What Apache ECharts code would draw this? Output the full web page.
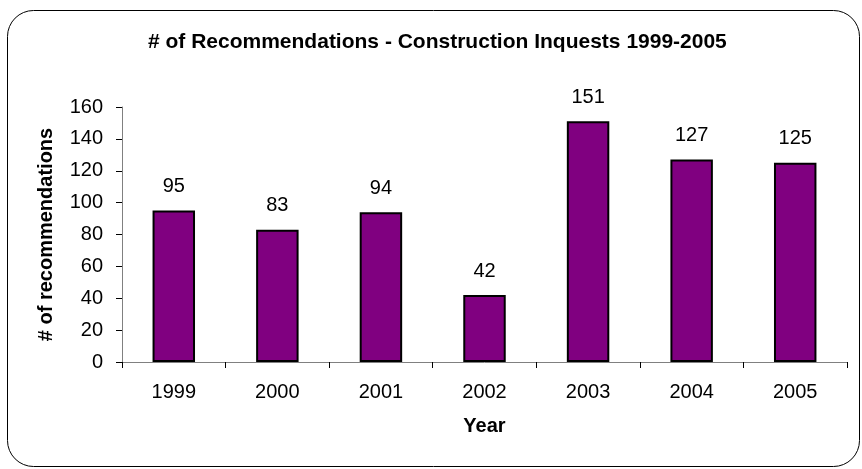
<!DOCTYPE html>
<html>
<head>
<meta charset="utf-8">
<title># of Recommendations</title>
<script src="https://cdn.jsdelivr.net/npm/echarts@6/dist/echarts.min.js"></script>
<style>
  html, body { margin: 0; padding: 0; background: #fff; }
  #chart { width: 862px; height: 469px; }
</style>
</head>
<body>
<div id="chart"></div>
<script>
// data
var years = ['1999', '2000', '2001', '2002', '2003', '2004', '2005'];
var recommendations = [95, 83, 94, 42, 151, 127, 125];

var chart = echarts.init(document.getElementById('chart'));
var font = '"Liberation Sans", Arial, sans-serif';

chart.setOption({
  animation: false,
  textStyle: { fontFamily: font },
  title: {
    text: '# of Recommendations - Construction Inquests 1999-2005',
    left: 143,
    top: 27,
    textStyle: { fontSize: 21, fontWeight: 'bold', color: '#000', fontFamily: font }
  },
  // rounded frame around the chart
  graphic: [{
    type: 'rect',
    shape: { x: 7.5, y: 10.5, width: 852, height: 456, r: 26 },
    style: { fill: 'none', stroke: '#000', lineWidth: 1 },
    z: -1
  }],
  grid: { left: 122, right: 15, top: 107, bottom: 107 },
  xAxis: {
    type: 'category',
    data: years,
    name: 'Year',
    nameLocation: 'middle',
    nameGap: 54,
    nameMoveOverlap: false,
    nameTextStyle: { fontSize: 20, fontWeight: 'bold', color: '#000' },
    axisLine: { lineStyle: { color: '#808080', width: 1 } },
    axisTick: { show: true, length: 6, lineStyle: { color: '#000' } },
    axisLabel: { fontSize: 20, color: '#000', margin: 20 }
  },
  yAxis: {
    type: 'value',
    min: 0,
    max: 160,
    interval: 20,
    name: '# of recommendations',
    nameLocation: 'middle',
    nameGap: 66,
    nameMoveOverlap: false,
    nameTextStyle: { fontSize: 20, fontWeight: 'bold', color: '#000' },
    splitLine: { show: false },
    axisLine: { show: true, lineStyle: { color: '#808080', width: 1 } },
    axisTick: { show: true, length: 6, lineStyle: { color: '#000' } },
    axisLabel: { fontSize: 20, color: '#000', margin: 19 }
  },
  series: [{
    type: 'bar',
    data: recommendations,
    barWidth: '41%',
    itemStyle: { color: '#800080', borderColor: '#000', borderWidth: 2 },
    label: {
      show: true,
      position: 'top',
      distance: 14,
      fontSize: 20,
      color: '#000'
    }
  }]
});
</script>
</body>
</html>
